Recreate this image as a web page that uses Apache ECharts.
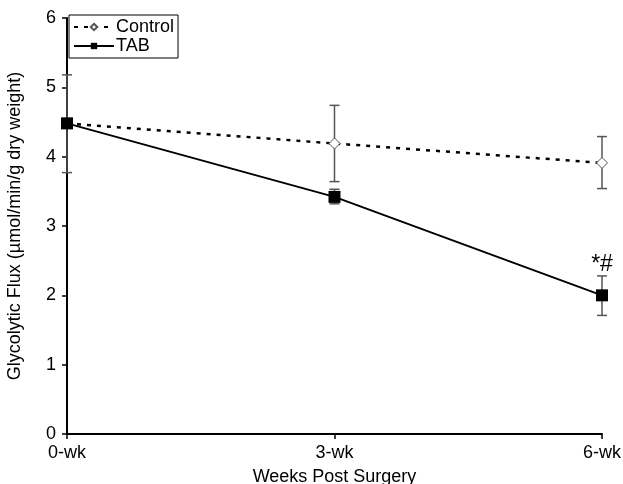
<!DOCTYPE html>
<html>
<head>
<meta charset="utf-8">
<script src="https://cdn.jsdelivr.net/npm/echarts@6/dist/echarts.min.js"></script>
<style>
  html, body { margin: 0; padding: 0; background: #fff; }
  #chart { width: 623px; height: 484px; }
</style>
</head>
<body>
<div id="chart"></div>
<script>
// 数据
var weeks = ['0-wk', '3-wk', '6-wk'];
var controlMean = [4.48, 4.19, 3.91];
var controlLow = [3.77, 3.64, 3.54];
var controlHigh = [5.18, 4.74, 4.29];
var tabMean = [4.48, 3.42, 2.0];
var tabLow = [4.41, 3.32, 1.71];
var tabHigh = [4.55, 3.53, 2.28];
var yTicks = [0, 1, 2, 3, 4, 5, 6];

var chart = echarts.init(document.getElementById('chart'));
var font = 'Liberation Sans, Arial, sans-serif';

// 误差棒
function errorBars(low, high) {
  return weeks.map(function (w, i) { return [i, low[i], high[i]]; });
}
function renderErr(params, api) {
  var x = api.value(0);
  var lo = api.coord([x, api.value(1)]);
  var hi = api.coord([x, api.value(2)]);
  var cap = 5;
  var style = { stroke: '#555', lineWidth: 1.5 };
  return {
    type: 'group',
    children: [
      { type: 'line', shape: { x1: lo[0], y1: lo[1], x2: hi[0], y2: hi[1] }, style: style },
      { type: 'line', shape: { x1: lo[0] - cap, y1: lo[1], x2: lo[0] + cap, y2: lo[1] }, style: style },
      { type: 'line', shape: { x1: hi[0] - cap, y1: hi[1], x2: hi[0] + cap, y2: hi[1] }, style: style }
    ]
  };
}

var tabData = tabMean.map(function (v, i) {
  if (i === 2) {
    return { value: v, label: { show: true, formatter: '*#', position: 'top', distance: 13, fontSize: 23, color: '#000', fontFamily: font } };
  }
  return v;
});

var option = {
  animation: false,
  backgroundColor: '#fff',
  grid: { left: 67, right: 21, top: 18, bottom: 50, outerBoundsMode: 'none', containLabel: false },
  legend: {
    orient: 'vertical',
    left: 69,
    top: 15,
    data: ['Control', 'TAB'],
    itemWidth: 40,
    itemHeight: 8,
    itemGap: 1,
    padding: [3, 4, 3, 4],
    borderColor: '#000',
    borderWidth: 1,
    textStyle: { fontFamily: font, fontSize: 18, color: '#000', padding: [0, 0, 0, -3] }
  },
  xAxis: {
    type: 'category',
    data: weeks,
    boundaryGap: false,
    name: 'Weeks Post Surgery',
    nameLocation: 'middle',
    nameGap: 34,
    nameTextStyle: { fontFamily: font, fontSize: 18, color: '#000' },
    axisLine: { lineStyle: { color: '#000', width: 2 } },
    axisTick: { show: true, length: 5, lineStyle: { color: '#000', width: 1.5 } },
    axisLabel: { fontFamily: font, fontSize: 18, color: '#000', margin: 10 },
    splitLine: { show: false }
  },
  yAxis: {
    type: 'value',
    min: yTicks[0],
    max: yTicks[yTicks.length - 1],
    interval: 1,
    name: 'Glycolytic Flux (µmol/min/g dry weight)',
    nameLocation: 'middle',
    nameGap: 43,
    nameTextStyle: { fontFamily: font, fontSize: 18, color: '#000' },
    axisLine: { show: true, lineStyle: { color: '#000', width: 2 } },
    axisTick: { show: true, length: 5, lineStyle: { color: '#000', width: 1.5 } },
    axisLabel: { fontFamily: font, fontSize: 18, color: '#000', margin: 11 },
    splitLine: { show: false }
  },
  series: [
    {
      type: 'custom',
      name: 'ctrlErr',
      renderItem: renderErr,
      data: errorBars(controlLow, controlHigh),
      encode: { x: 0, y: [1, 2] },
      z: 1,
      silent: true
    },
    {
      type: 'custom',
      name: 'tabErr',
      renderItem: renderErr,
      data: errorBars(tabLow, tabHigh),
      encode: { x: 0, y: [1, 2] },
      z: 1,
      silent: true
    },
    {
      name: 'Control',
      type: 'line',
      data: controlMean,
      symbol: 'diamond',
      symbolSize: 11,
      showAllSymbol: true,
      lineStyle: { color: '#000', width: 2.5, type: [4, 6] },
      itemStyle: { color: '#fff', borderColor: '#555', borderWidth: 1 },
      z: 2
    },
    {
      name: 'TAB',
      type: 'line',
      data: tabData,
      symbol: 'rect',
      symbolSize: 12,
      lineStyle: { color: '#000', width: 2 },
      itemStyle: { color: '#000' },
      z: 3
    }
  ]
};

chart.setOption(option);
window.addEventListener('resize', function () {
  chart.resize();
});
</script>
</body>
</html>
